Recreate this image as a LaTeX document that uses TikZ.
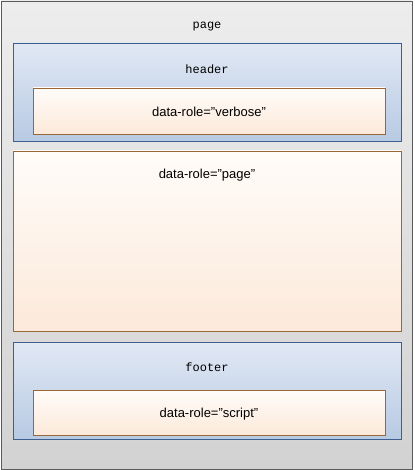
\documentclass[tikz,border=0pt]{standalone}
\usepackage{fontspec}
\setmainfont{Liberation Sans}
\setmonofont{Liberation Mono}
\usetikzlibrary{shadows}

\definecolor{pageline}{HTML}{5A5A5A}
\definecolor{pagetop}{HTML}{EDEDED}
\definecolor{pagebot}{HTML}{D2D2D2}
\definecolor{barline}{HTML}{3F5F8F}
\definecolor{bartop}{HTML}{E1E8F4}
\definecolor{barbot}{HTML}{B7CAE3}
\definecolor{roleline}{HTML}{9A6836}
\definecolor{roletop}{HTML}{FFFCF9}
\definecolor{rolebot}{HTML}{FCE9DA}

\begin{document}
\begin{tikzpicture}[x=1pt,y=1pt,
    barbox/.style={draw=barline,line width=0.8pt,top color=bartop,bottom color=barbot,
      minimum width=388pt,inner sep=0pt},
    rolebox/.style={draw=roleline,line width=0.8pt,top color=roletop,bottom color=rolebot,
      drop shadow={shadow xshift=1.2pt,shadow yshift=-1.2pt,opacity=0.25,fill=black},
      inner sep=0pt},
    monolabel/.style={font=\ttfamily\fontsize{12}{14}\selectfont},
    rolelabel/.style={font=\fontsize{13}{15}\selectfont}]
  \useasboundingbox (0,0) rectangle (414,-470);

  % outer page
  \draw[draw=pageline,line width=0.8pt,top color=pagetop,bottom color=pagebot]
    (1,-1) rectangle (412,-469);
  \node[monolabel] (pagetitle) at (207,-27) {page};

  % header with verbose role
  \node[barbox,minimum height=98pt] (header) at (207,-92) {};
  \node[monolabel] (headertitle) at (207,-69) {header};
  \node[rolebox,minimum width=352pt,minimum height=46pt] (verbose) at (209,-111) {};
  \node[rolelabel] (verbosetext) at (209,-112) {data-role="verbose"};

  % content
  \node[rolebox,minimum width=388pt,minimum height=180pt] (content) at (207,-241) {};
  \node[rolelabel] (contenttext) at (207,-175) {data-role="page"};

  % footer with script role
  \node[barbox,minimum height=97pt] (footer) at (207,-390.5) {};
  \node[monolabel] (footertitle) at (207,-367) {footer};
  \node[rolebox,minimum width=352pt,minimum height=45pt] (script) at (209,-412.5) {};
  \node[rolelabel] (scripttext) at (209,-414) {data-role="script"};
\end{tikzpicture}
\end{document}
